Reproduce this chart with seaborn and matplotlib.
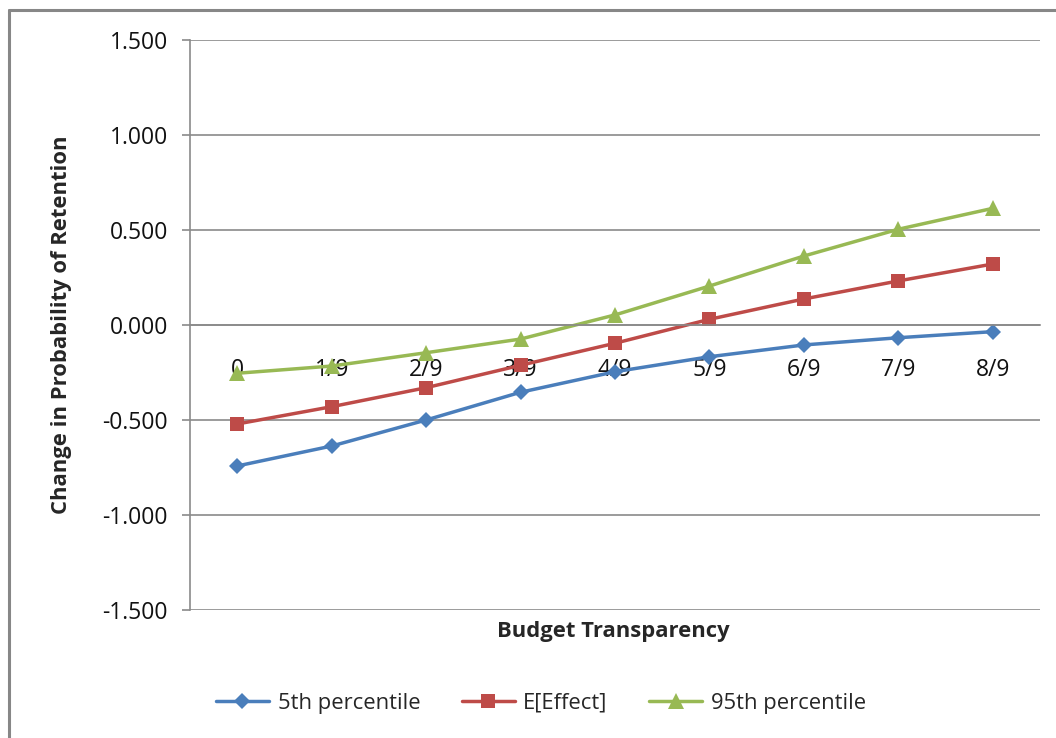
import numpy as np
import pandas as pd
import matplotlib
matplotlib.use("Agg")
import matplotlib.pyplot as plt
import seaborn as sns
from matplotlib.lines import Line2D

# data
categories = ["0", "1/9", "2/9", "3/9", "4/9", "5/9", "6/9", "7/9", "8/9"]
series_names = ["5th percentile", "E[Effect]", "95th percentile"]
p5 = [-0.742, -0.637, -0.500, -0.354, -0.246, -0.167, -0.105, -0.067, -0.035]
effect = [-0.521, -0.430, -0.330, -0.212, -0.096, 0.030, 0.137, 0.232, 0.321]
p95 = [-0.254, -0.216, -0.146, -0.074, 0.053, 0.205, 0.363, 0.504, 0.614]
y_ticks = [-1.5, -1.0, -0.5, 0.0, 0.5, 1.0, 1.5]

colors = ["#4A7EBB", "#BE4B48", "#98B954"]
markers = ["D", "s", "^"]
msizes = [8.5, 10.5, 11]

df = pd.DataFrame({
    "pos": list(range(len(categories))) * 3,
    "value": p5 + effect + p95,
    "series": [s for s in series_names for _ in categories],
})

sns.set_style("white")
plt.rcParams["font.family"] = ["Open Sans", "DejaVu Sans"]
fs = 15.8
tick_fs = 16.5

fig = plt.figure(figsize=(10.56, 7.38), dpi=100)
ax = fig.add_axes([190 / 1056, 1 - 610 / 738, (1040 - 190) / 1056, (610 - 40) / 738])

sns.lineplot(data=df, x="pos", y="value", hue="series", style="series",
             palette=colors, markers=markers, dashes=False, linewidth=2.5,
             markeredgewidth=0, legend=False, ax=ax)
for line, ms in zip(ax.lines, msizes):
    line.set_markersize(ms)

ax.set_xlim(-0.5, len(categories) - 0.5)
ax.set_ylim(-1.5, 1.5)
ax.set_yticks(y_ticks)
ax.set_yticklabels([f"{v:.3f}" for v in y_ticks])
ax.yaxis.grid(True, color="#8A8A8A", linewidth=1.2)
ax.set_axisbelow(True)

ax.set_xticks(range(len(categories)))
ax.set_xticklabels(categories)
ax.set_xticks(np.arange(0.5, len(categories) - 0.5, 1), minor=True)
ax.tick_params(axis="x", which="major", length=0, pad=24, labelsize=tick_fs, colors="#111111")
ax.tick_params(axis="x", which="minor", length=6, width=1.2, color="#8A8A8A", direction="out")
ax.tick_params(axis="y", length=6, width=1.2, color="#8A8A8A", direction="out", pad=10,
               labelsize=tick_fs, labelcolor="#111111")
ax.tick_params(axis="y", left=True)

for s in ["top", "right"]:
    ax.spines[s].set_visible(False)
ax.spines["bottom"].set_position(("data", 0))
ax.spines["bottom"].set_color("#8A8A8A")
ax.spines["bottom"].set_linewidth(1.2)
ax.spines["left"].set_color("#8A8A8A")
ax.spines["left"].set_linewidth(1.2)

ax.set_xlabel("")
ax.set_ylabel("")
fig.text(613 / 1056, 1 - 632 / 738, "Budget Transparency", ha="center", va="center",
         fontsize=fs, fontweight="bold")
fig.text(62 / 1056, 1 - 325 / 738, "Change in Probability of Retention", ha="center",
         va="center", rotation=90, fontsize=fs, fontweight="bold")

# outer chart frame (top and left edges visible in the crop)
fig.add_artist(Line2D([9 / 1056, 1], [1 - 10 / 738, 1 - 10 / 738], color="#878787", lw=2.2))
fig.add_artist(Line2D([9 / 1056, 9 / 1056], [0, 1 - 10 / 738], color="#878787", lw=2.2))

handles = [Line2D([], [], color=c, marker=m, markersize=ms, markeredgewidth=0, lw=2.5)
           for c, m, ms in zip(colors, markers, msizes)]
fig.legend(handles, series_names, loc="center", bbox_to_anchor=(541 / 1056, 1 - 703 / 738),
           ncol=3, frameon=False, fontsize=fs, handlelength=2.4, handletextpad=0.4,
           columnspacing=1.9)

fig.savefig("out.png", dpi=100)
